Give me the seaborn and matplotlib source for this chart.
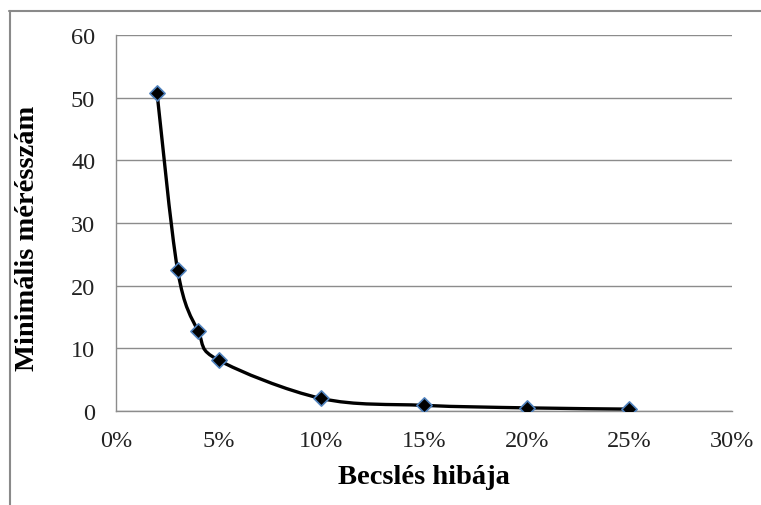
import numpy as np
import matplotlib
matplotlib.use("Agg")
import matplotlib.pyplot as plt
from matplotlib.path import Path
from matplotlib.patches import PathPatch
from matplotlib.lines import Line2D
from matplotlib.ticker import FixedLocator, FuncFormatter
import seaborn as sns
import pandas as pd

# Estimation error (fraction) and minimum number of measurements
error = [0.02, 0.03, 0.04, 0.05, 0.10, 0.15, 0.20, 0.25]
min_count = [50.7, 22.5, 12.7, 8.1, 2.0, 0.9, 0.5, 0.3]

x_ticks = [0.0, 0.05, 0.10, 0.15, 0.20, 0.25, 0.30]
y_ticks = [0, 10, 20, 30, 40, 50, 60]

x_title = "Becslés hibája"
y_title = "Minimális mérésszám"

df = pd.DataFrame({"hiba": error, "n": min_count})

sns.set_style("white")
plt.rcParams["font.family"] = ["Liberation Serif", "DejaVu Serif"]

W, H = 761, 506
fig = plt.figure(figsize=(W / 100, H / 100), dpi=100)
left, right, top, bottom = 116, 732, 36, 412
ax = fig.add_axes([left / W, (H - bottom) / H, (right - left) / W, (bottom - top) / H])

grid_col = "#8c8c8c"

# smoothed connecting line: cubic Bezier segments (Catmull-Rom style control points)
pts = np.column_stack([error, min_count])
n = len(pts)
verts = [tuple(pts[0])]
codes = [Path.MOVETO]
for i in range(n - 1):
    p0 = pts[i - 1] if i > 0 else pts[i]
    p1 = pts[i]
    p2 = pts[i + 1]
    p3 = pts[i + 2] if i + 2 < n else pts[i + 1]
    c1 = p1 + (p2 - p0) / 6.0
    c2 = p2 - (p3 - p1) / 6.0
    verts += [tuple(c1), tuple(c2), tuple(p2)]
    codes += [Path.CURVE4] * 3
ax.add_patch(PathPatch(Path(verts, codes), facecolor="none", edgecolor="black",
                       lw=2.4, capstyle="round", joinstyle="round", zorder=3))

sns.scatterplot(data=df, x="hiba", y="n", ax=ax, marker="D", s=60,
                color="black", edgecolor="#4f81bd", linewidth=1.2, zorder=4)

ax.set_xlim(0, 0.30)
ax.set_ylim(0, 60)
ax.xaxis.set_major_locator(FixedLocator(x_ticks))
ax.yaxis.set_major_locator(FixedLocator(y_ticks))
ax.xaxis.set_major_formatter(FuncFormatter(lambda v, p: f"{v * 100:.0f}%"))
ax.yaxis.set_major_formatter(FuncFormatter(lambda v, p: f"{v:.0f}"))

ax.grid(axis="y", color=grid_col, lw=1.0)
ax.grid(axis="x", visible=False)
ax.set_axisbelow(True)
for s in ["top", "right"]:
    ax.spines[s].set_visible(False)
for s in ["left", "bottom"]:
    ax.spines[s].set_color(grid_col)
    ax.spines[s].set_linewidth(1.0)

ax.tick_params(axis="both", length=0, labelsize=17.5, colors="#222222")
ax.tick_params(axis="y", pad=15)
ax.tick_params(axis="x", pad=14)

ax.set_xlabel(x_title, fontsize=20.5, fontweight="bold", color="black")
ax.set_ylabel(y_title, fontsize=20.5, fontweight="bold", color="black")
ax.xaxis.label.set_va("center")
ax.yaxis.label.set_va("center")
ax.xaxis.set_label_coords(0.5, (bottom - 478) / (bottom - top))
ax.yaxis.set_label_coords((27 - left) / (right - left), (bottom - 238) / (bottom - top))

# outer chart frame (left and top edges)
fig.add_artist(Line2D([10 / W, 10 / W], [0, (H - 12) / H], color="#8a8a8a", lw=1.5))
fig.add_artist(Line2D([9.3 / W, 1.0], [(H - 12) / H, (H - 12) / H], color="#8a8a8a", lw=1.5))

fig.savefig("out.png", dpi=100, facecolor="white")
